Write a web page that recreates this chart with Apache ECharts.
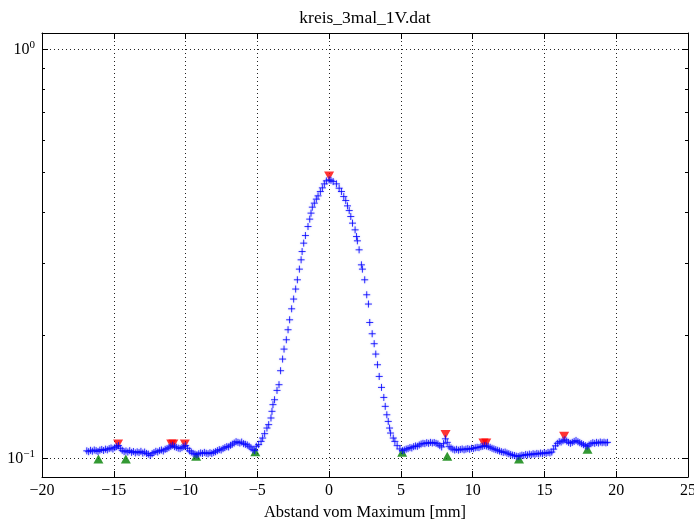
<!DOCTYPE html>
<html>
<head>
<meta charset="utf-8">
<script src="https://cdn.jsdelivr.net/npm/echarts@6/dist/echarts.min.js"></script>
<style>
  html, body { margin: 0; padding: 0; background: #ffffff; }
  #chart { width: 694px; height: 520px; }
</style>
</head>
<body>
<div id="chart"></div>
<script>
// Messprofil: Abstand vom Maximum [mm] und Signal (log. Skala)
const abstand = [
  -16.88,-16.75,-16.62,-16.49,-16.36,-16.23,-16.10,-15.97,-15.84,-15.71,
  -15.58,-15.45,-15.32,-15.19,-15.06,-14.93,-14.80,-14.67,-14.54,-14.41,
  -14.28,-14.15,-14.02,-13.89,-13.76,-13.63,-13.50,-13.37,-13.24,-13.11,
  -12.98,-12.85,-12.72,-12.59,-12.46,-12.33,-12.20,-12.07,-11.94,-11.81,
  -11.68,-11.55,-11.42,-11.29,-11.16,-11.03,-10.90,-10.77,-10.64,-10.51,
  -10.38,-10.25,-10.12,-9.99,-9.86,-9.73,-9.60,-9.47,-9.34,-9.21,
  -9.08,-8.95,-8.82,-8.69,-8.56,-8.43,-8.30,-8.17,-8.04,-7.91,
  -7.78,-7.65,-7.52,-7.39,-7.26,-7.13,-7.00,-6.87,-6.74,-6.61,
  -6.48,-6.35,-6.22,-6.09,-5.96,-5.83,-5.70,-5.57,-5.44,-5.31,
  -5.18,
  -5.07,-4.91,-4.74,-4.63,-4.49,-4.33,-4.21,-4.05,-3.98,-3.91,
  -3.80,-3.63,-3.49,-3.38,-3.24,-3.14,-2.98,-2.86,-2.75,-2.61,
  -2.47,-2.33,-2.21,-2.07,-1.95,-1.88,-1.77,-1.65,-1.47,-1.35,
  -1.26,-1.17,-1.03,-0.89,-0.77,-0.61,-0.47,-0.33,-0.19,0.00,
  0.13,0.28,0.51,0.70,0.86,1.02,1.16,1.28,1.40,1.51,
  1.63,1.81,1.91,1.97,2.09,2.25,2.32,2.48,2.62,2.74,
  2.83,3.00,3.14,3.25,3.37,3.49,3.65,3.81,3.91,4.02,
  4.12,4.21,4.28,4.47,4.58,4.74,4.93,5.11,
  5.24,5.37,5.50,5.63,5.76,5.89,6.02,6.15,6.28,6.41,
  6.54,6.67,6.80,6.93,7.06,7.19,7.32,7.45,7.58,7.71,
  7.84,7.97,8.10,8.23,8.36,8.49,8.62,8.75,8.88,9.01,
  9.14,9.27,9.40,9.53,9.66,9.79,9.92,10.05,10.18,10.31,
  10.44,10.57,10.70,10.83,10.96,11.09,11.22,11.35,11.48,11.61,
  11.74,11.87,12.00,12.13,12.26,12.39,12.52,12.65,12.78,12.91,
  13.04,13.17,13.30,13.43,13.56,13.69,13.82,13.95,14.08,14.21,
  14.34,14.47,14.60,14.73,14.86,14.99,15.12,15.25,15.38,15.51,
  15.64,15.77,15.90,16.03,16.16,16.29,16.42,16.55,16.68,16.81,
  16.94,17.07,17.20,17.33,17.46,17.59,17.72,17.85,17.98,18.11,
  18.24,18.37,18.50,18.63,18.76,18.89,19.02,19.15,19.28,19.39
];
const signal = [
  0.1045,0.1040,0.1048,0.1043,0.1050,0.1046,0.1041,0.1049,0.1053,0.1047,
  0.1055,0.1051,0.1058,0.1062,0.1056,0.1064,0.1070,0.1076,0.1060,0.1048,
  0.1040,0.1044,0.1038,0.1046,0.1036,0.1041,0.1033,0.1039,0.1035,0.1042,
  0.1032,0.1038,0.1030,0.1026,0.1018,0.1028,0.1035,0.1042,0.1038,0.1046,
  0.1050,0.1044,0.1054,0.1058,0.1064,0.1072,0.1078,0.1070,0.1066,0.1061,
  0.1058,0.1064,0.1070,0.1076,0.1060,0.1045,0.1038,0.1030,0.1026,0.1022,
  0.1028,0.1033,0.1030,0.1036,0.1031,0.1028,0.1034,0.1030,0.1036,0.1040,
  0.1046,0.1052,0.1050,0.1058,0.1064,0.1070,0.1068,0.1078,0.1085,0.1092,
  0.1100,0.1096,0.1092,0.1098,0.1088,0.1084,0.1080,0.1072,0.1062,0.1052,
  0.1046,
  0.1072,0.1082,0.1102,0.1123,0.1151,0.1188,0.1211,0.1257,0.1305,0.1355,
  0.1393,0.1468,0.1516,0.1640,0.1751,0.1852,0.1952,0.2065,0.2184,0.2323,
  0.2454,0.2596,0.2735,0.2904,0.3060,0.3206,0.3361,0.3508,0.3690,0.3847,
  0.3979,0.4115,0.4209,0.4305,0.4385,0.4493,0.4587,0.4691,0.4770,0.4797,
  0.4785,0.4752,0.4691,0.4578,0.4493,0.4368,0.4271,0.4145,0.4037,0.3904,
  0.3761,0.3622,0.3488,0.3405,0.3237,0.2975,0.2904,0.2735,0.2514,0.2386,
  0.2151,0.2019,0.1909,0.1801,0.1696,0.1588,0.1493,0.1411,0.1342,0.1280,
  0.1233,0.1188,0.1155,0.1123,0.1102,0.1076,0.1056,0.1046,
  0.1050,0.1055,0.1058,0.1064,0.1062,0.1070,0.1074,0.1072,0.1080,0.1086,
  0.1090,0.1088,0.1094,0.1090,0.1096,0.1092,0.1095,0.1090,0.1086,0.1076,
  0.1068,0.1088,0.1118,0.1096,0.1070,0.1062,0.1055,0.1050,0.1054,0.1049,
  0.1053,0.1056,0.1051,0.1055,0.1058,0.1054,0.1060,0.1058,0.1063,0.1066,
  0.1064,0.1070,0.1072,0.1076,0.1074,0.1070,0.1066,0.1060,0.1056,0.1052,
  0.1048,0.1044,0.1040,0.1036,0.1038,0.1032,0.1028,0.1024,0.1020,0.1018,
  0.1014,0.1012,0.1016,0.1020,0.1018,0.1024,0.1021,0.1026,0.1022,0.1028,
  0.1025,0.1030,0.1027,0.1032,0.1028,0.1034,0.1030,0.1036,0.1033,0.1038,
  0.1055,0.1075,0.1090,0.1100,0.1098,0.1106,0.1112,0.1104,0.1096,0.1090,
  0.1096,0.1102,0.1108,0.1100,0.1094,0.1088,0.1082,0.1076,0.1072,0.1080,
  0.1088,0.1094,0.1090,0.1096,0.1092,0.1098,0.1094,0.1097,0.1093,0.1096
];

// Gefundene lokale Maxima und Minima
const maximaX = [-14.70, -11.00, -10.85, -10.05, 0.00, 8.11, 10.75, 10.95, 16.37];
const maximaY = [0.1086, 0.1086, 0.1086, 0.1086, 0.4900, 0.1145, 0.1092, 0.1092, 0.1134];
const minimaX = [-16.07, -14.16, -9.26, -5.14, 5.09, 8.23, 13.23, 18.00];
const minimaY = [0.0998, 0.0998, 0.1013, 0.1040, 0.1037, 0.1013, 0.0998, 0.1055];

// Achsen
const xMin = -20, xMax = 25, xStep = 5;
const yMin = 0.0902, yMax = 1.096;
const yMajorTicks = [0.1, 1];
const yMinorTicks = [0.2, 0.3, 0.4, 0.5, 0.6, 0.7, 0.8, 0.9];

const titleText = 'kreis_3mal_1V.dat';
const xName = 'Abstand vom Maximum [mm]';

const FONT = '"Liberation Serif", "DejaVu Serif", serif';
const frameLine = { show: true, onZero: false, lineStyle: { color: '#000', width: 1 } };
const noLine = { show: false, onZero: false };
const gridLine = { show: true, lineStyle: { color: '#222', width: 1, type: [1, 3] } };

function minusSign(v) {
  return v < 0 ? '\u2212' + Math.abs(v) : String(v);
}
function powerLabel(v) {
  const e = Math.round(Math.log10(v));
  if (Math.abs(Math.log10(v) - e) > 1e-6) return '';
  return '{b|10}{e|' + minusSign(e) + '}';
}

function yAxisDef(position, ticks, len, withLabels, withGrid, withLine) {
  return {
    type: 'log', logBase: 10, min: yMin, max: yMax, position: position,
    axisLine: withLine ? frameLine : noLine,
    axisTick: { show: true, inside: true, length: len, customValues: ticks,
                lineStyle: { color: '#000', width: 1 } },
    axisLabel: withLabels ? {
      show: true, customValues: yMajorTicks, margin: 7, formatter: powerLabel,
      rich: {
        b: { fontFamily: FONT, fontSize: 16, color: '#000' },
        e: { fontFamily: FONT, fontSize: 11, color: '#000', padding: [0, 0, 9, 0] }
      }
    } : { show: false },
    splitLine: withGrid ? gridLine : { show: false }
  };
}

const chart = echarts.init(document.getElementById('chart'), null, { renderer: 'canvas' });
chart.setOption({
  animation: false,
  backgroundColor: '#ffffff',
  title: {
    text: titleText, left: 360, top: 4, textAlign: 'center',
    textStyle: { fontFamily: FONT, fontSize: 17.5, fontWeight: 'normal', color: '#000' }
  },
  grid: { left: 42, right: 6, top: 33, bottom: 43, containLabel: false, outerBoundsMode: 'none' },
  xAxis: [
    {
      type: 'value', position: 'bottom', min: xMin, max: xMax, interval: xStep,
      name: xName, nameLocation: 'middle', nameGap: 23,
      nameTextStyle: { fontFamily: FONT, fontSize: 16.5, color: '#000' },
      axisLine: frameLine,
      axisTick: { show: true, inside: true, length: 6, lineStyle: { color: '#000', width: 1 } },
      axisLabel: { show: true, margin: 6, formatter: minusSign,
                   fontFamily: FONT, fontSize: 16, color: '#000' },
      splitLine: gridLine
    },
    {
      type: 'value', position: 'top', min: xMin, max: xMax, interval: xStep,
      axisLine: frameLine,
      axisTick: { show: true, inside: true, length: 6, lineStyle: { color: '#000', width: 1 } },
      axisLabel: { show: false },
      splitLine: { show: false }
    }
  ],
  yAxis: [
    yAxisDef('left', yMajorTicks, 6, true, true, true),
    yAxisDef('left', yMinorTicks, 3, false, false, false),
    yAxisDef('right', yMajorTicks, 6, false, false, true),
    yAxisDef('right', yMinorTicks, 3, false, false, false)
  ],
  series: [
    {
      name: 'Maxima', type: 'scatter', xAxisIndex: 0, yAxisIndex: 0, z: 2,
      symbol: 'triangle', symbolRotate: 180, symbolSize: [10, 9],
      itemStyle: { color: '#ff0000' },
      data: maximaX.map((x, i) => [x, maximaY[i]])
    },
    {
      name: 'Minima', type: 'scatter', xAxisIndex: 0, yAxisIndex: 0, z: 2,
      symbol: 'triangle', symbolSize: [10, 9],
      itemStyle: { color: '#008000' },
      data: minimaX.map((x, i) => [x, minimaY[i]])
    },
    {
      name: 'Messwerte', type: 'scatter', xAxisIndex: 0, yAxisIndex: 0, z: 3,
      symbol: 'path://M0,5L10,5M5,0L5,10', symbolSize: 7,
      itemStyle: { color: 'transparent', borderColor: '#0000ff', borderWidth: 1,
                   shadowBlur: 2, shadowColor: 'rgba(60,60,255,0.45)' },
      data: abstand.map((x, i) => [x, signal[i]])
    }
  ]
});
</script>
</body>
</html>
